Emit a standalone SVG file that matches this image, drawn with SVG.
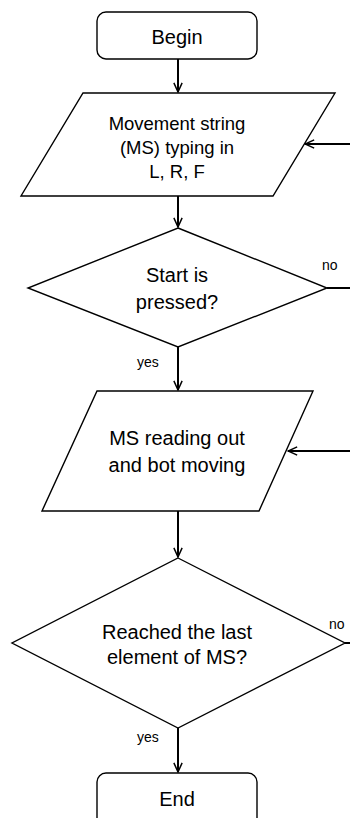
<svg xmlns="http://www.w3.org/2000/svg" width="350" height="818" viewBox="0 0 350 818">
  <defs>
    <marker id="ah" viewBox="0 0 12 12" refX="11" refY="6" markerWidth="11" markerHeight="11" markerUnits="userSpaceOnUse" orient="auto">
      <path d="M1,1.5 L11,6 L1,10.5" fill="none" stroke="#000" stroke-width="1.6"/>
    </marker>
    <style>
      .shape { fill: #fff; stroke: #000; stroke-width: 1.4; }
      .conn { fill: none; stroke: #000; stroke-width: 2; }
      .arr { marker-end: url(#ah); }
      .t { font-family: "Liberation Sans", Arial, sans-serif; font-size: 20px; fill: #000; text-anchor: middle; }
      .t18 { font-size: 18.5px; }
      .lbl { font-family: "Liberation Sans", Arial, sans-serif; font-size: 14px; fill: #000; }
    </style>
  </defs>
  <rect width="350" height="818" fill="#fff"/>

  <g id="connectors">
    <path class="conn arr" d="M178,59 L178,92"/>
    <path class="conn arr" d="M350,144 L305,144"/>
    <path class="conn arr" d="M178,196 L178,227"/>
    <path class="conn" d="M327,288 L350,288"/>
    <path class="conn arr" d="M178,347 L178,390"/>
    <path class="conn arr" d="M350,451 L288,451"/>
    <path class="conn arr" d="M178,511 L178,557"/>
    <path class="conn" d="M345,643 L350,643"/>
    <path class="conn arr" d="M178,728 L178,772"/>
    <text class="lbl" x="322" y="270">no</text>
    <text class="lbl" x="137" y="367">yes</text>
    <text class="lbl" x="329" y="629">no</text>
    <text class="lbl" x="137" y="742">yes</text>
  </g>

  <g id="begin">
    <rect class="shape" x="97" y="12" width="160" height="47" rx="9"/>
    <text class="t" x="177" y="44">Begin</text>
  </g>

  <g id="input-ms">
    <polygon class="shape" points="83,93 335,93 273,196 21,196"/>
    <text class="t t18" x="177" y="130">Movement string</text>
    <text class="t t18" x="177" y="154">(MS) typing in</text>
    <text class="t t18" x="177" y="178">L, R, F</text>
  </g>

  <g id="start-pressed">
    <polygon class="shape" points="178,228 327,288 178,347 28,288"/>
    <text class="t" x="177" y="282">Start is</text>
    <text class="t" x="177" y="309">pressed?</text>
  </g>

  <g id="ms-reading">
    <polygon class="shape" points="97,391 313,391 259,511 42,511"/>
    <text class="t" x="177" y="445">MS reading out</text>
    <text class="t" x="177" y="472">and bot moving</text>
  </g>

  <g id="reached-last">
    <polygon class="shape" points="178,558 345,643 178,728 12,643"/>
    <text class="t" x="177" y="639">Reached the last</text>
    <text class="t" x="177" y="664">element of MS?</text>
  </g>

  <g id="end">
    <rect class="shape" x="97" y="773" width="160" height="60" rx="9"/>
    <text class="t" x="177" y="806">End</text>
  </g>
</svg>
